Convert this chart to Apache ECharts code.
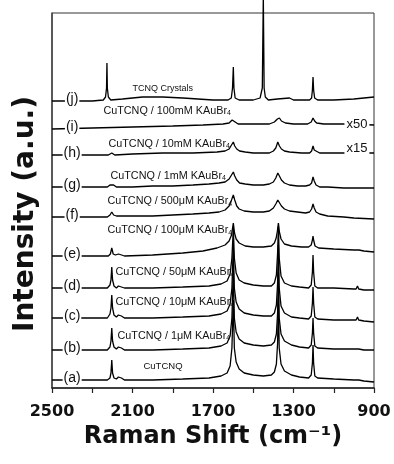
<!DOCTYPE html>
<html>
<head>
<meta charset="utf-8">
<script src="https://cdn.jsdelivr.net/npm/echarts@6/dist/echarts.min.js"></script>
<style>
  html, body { margin: 0; padding: 0; background: #fff; }
  #chart { width: 394px; height: 464px; }
</style>
</head>
<body>
<div id="chart"></div>
<script>
  // Raman spectra, [shift cm-1, intensity a.u. (stacked offset)]
  const traceA = [[2500,8],[2300,8],[2225,8],[2212,10],[2207,15],[2203,28],[2199,15],[2192,10],[2180,9],[2170,11],[2162,13],[2155,10],[2140,8],[2000,8],[1850,9],[1720,10],[1660,12],[1630,15],[1615,22],[1606,40],[1599,88],[1594,40],[1585,26],[1570,19],[1545,15],[1500,13],[1450,12],[1410,13],[1395,16],[1385,24],[1379,45],[1375,88],[1371,40],[1362,24],[1345,17],[1310,13],[1270,11],[1225,10],[1212,13],[1206,25],[1203,43],[1200,25],[1194,12],[1180,10],[1100,9],[1000,8],[989,8],[982,10],[976,8],[950,7],[900,6]];
  const traceB = [[2500,38],[2300,38],[2225,38],[2212,41],[2207,47],[2203,60],[2199,47],[2192,41],[2180,39],[2170,41],[2162,43],[2155,40],[2140,38],[2000,38],[1850,39],[1720,40],[1660,42],[1630,45],[1615,52],[1606,70],[1599,118],[1594,70],[1585,56],[1570,49],[1545,45],[1500,43],[1450,42],[1410,43],[1395,46],[1385,54],[1379,75],[1375,116],[1371,70],[1362,54],[1345,47],[1310,43],[1270,41],[1225,40],[1212,43],[1206,55],[1203,70],[1200,55],[1194,42],[1180,40],[1100,39],[1000,39],[989,39],[982,41],[976,39],[950,38],[900,38]];
  const traceC = [[2500,70],[2300,70],[2225,70],[2212,74],[2207,80],[2203,93],[2199,80],[2192,73],[2180,71],[2170,73],[2162,75],[2155,72],[2140,70],[2000,70],[1850,71],[1720,72],[1660,74],[1630,77],[1615,84],[1606,100],[1599,143],[1594,100],[1585,86],[1570,79],[1545,75],[1500,73],[1450,72],[1410,72],[1395,75],[1385,83],[1379,105],[1375,143],[1371,100],[1362,82],[1345,75],[1310,71],[1270,70],[1225,69],[1212,72],[1206,85],[1203,101],[1200,85],[1194,71],[1180,69],[1100,68],[1000,68],[989,68],[982,71],[976,68],[950,67],[900,66]];
  const traceD = [[2500,100],[2300,100],[2225,100],[2212,103],[2207,108],[2203,121],[2199,108],[2192,102],[2180,100],[2170,102],[2162,103],[2155,101],[2140,100],[2000,100],[1850,101],[1720,102],[1660,104],[1630,107],[1615,114],[1606,130],[1599,160],[1594,130],[1585,115],[1570,108],[1545,105],[1500,103],[1450,102],[1410,102],[1395,105],[1385,113],[1379,135],[1375,162],[1371,130],[1362,112],[1345,105],[1310,102],[1270,101],[1225,100],[1212,103],[1206,116],[1203,133],[1200,116],[1194,102],[1180,100],[1100,100],[1000,99],[989,99],[982,102],[976,99],[950,98],[900,98]];
  const traceE = [[2500,132],[2300,132],[2220,132],[2210,134],[2203,140],[2196,134],[2185,133],[2170,134],[2162,135],[2154,133],[2140,132],[2000,133],[1850,135],[1750,137],[1680,140],[1640,143],[1620,147],[1608,153],[1599,165],[1593,155],[1585,149],[1570,145],[1540,142],[1500,141],[1450,141],[1410,142],[1395,145],[1386,150],[1380,157],[1375,165],[1370,156],[1362,149],[1345,144],[1310,142],[1260,141],[1225,141],[1212,143],[1206,148],[1203,152],[1199,147],[1193,142],[1175,140],[1100,139],[1000,138],[990,138],[982,140],[975,138],[950,137],[900,136]];
  const traceF = [[2500,171],[2300,171],[2225,171],[2212,173],[2203,176],[2194,173],[2180,172],[2100,172],[2000,172],[1900,173],[1800,174],[1720,175],[1670,176],[1640,178],[1620,182],[1608,188],[1599,193],[1592,188],[1582,182],[1570,179],[1545,177],[1500,176],[1450,176],[1420,177],[1400,180],[1388,184],[1378,188],[1370,186],[1360,182],[1345,179],[1320,177],[1280,176],[1240,175],[1220,176],[1210,179],[1203,184],[1197,180],[1188,176],[1170,174],[1130,172],[1050,171],[1000,170],[900,169]];
  const traceG = [[2500,201],[2300,201],[2225,201],[2212,203],[2203,205],[2194,203],[2180,201],[2100,201],[2000,202],[1900,202],[1800,203],[1720,204],[1670,205],[1640,206],[1620,209],[1608,213],[1599,216],[1592,212],[1582,208],[1568,205],[1540,204],[1500,203],[1450,203],[1420,204],[1400,206],[1388,210],[1378,215],[1370,212],[1360,208],[1345,205],[1320,203],[1280,202],[1240,202],[1220,203],[1210,205],[1203,211],[1197,207],[1188,203],[1170,201],[1130,201],[1050,200],[1000,200],[900,200]];
  const traceH = [[2500,233],[2300,233],[2220,233],[2203,235],[2188,233],[2100,234],[1950,235],[1800,235],[1680,236],[1640,237],[1620,239],[1608,243],[1599,246],[1592,242],[1582,239],[1568,237],[1540,236],[1500,235],[1420,235],[1400,237],[1388,240],[1378,246],[1370,242],[1360,239],[1345,237],[1320,236],[1260,235],[1220,235],[1210,237],[1203,242],[1197,238],[1188,236],[1170,235],[1050,235],[900,235]];
  const traceI = [[2500,259],[2300,260],[2100,261],[1900,262],[1750,263],[1650,264],[1620,265],[1605,268],[1599,269],[1590,266],[1575,264],[1500,264],[1420,264],[1395,266],[1380,269],[1370,270],[1360,267],[1340,265],[1300,264],[1230,264],[1212,266],[1203,270],[1195,267],[1185,265],[1150,264],[1050,264],[900,263]];
  const traceJ = [[2500,287],[2300,287],[2245,288],[2234,291],[2229,300],[2227,325],[2225,300],[2220,291],[2208,288],[2150,289],[2050,291],[1950,291],[1850,290],[1700,288],[1625,288],[1609,290],[1603,300],[1599,321],[1596,300],[1590,290],[1570,288],[1500,288],[1466,290],[1455,300],[1450,392],[1446,300],[1440,291],[1425,288],[1380,289],[1320,290],[1300,288],[1220,288],[1210,290],[1206,298],[1203,311],[1200,298],[1195,290],[1180,288],[1100,288],[1000,289],[950,290],[900,291]];

  const traceTags = ['(a)', '(b)', '(c)', '(d)', '(e)', '(f)', '(g)', '(h)', '(i)', '(j)'];
  const sampleNames = ['CuTCNQ', 'CuTCNQ / 1μM KAuBr', 'CuTCNQ / 10μM KAuBr', 'CuTCNQ / 50μM KAuBr',
    'CuTCNQ / 100μM KAuBr', 'CuTCNQ / 500μM KAuBr', 'CuTCNQ / 1mM KAuBr', 'CuTCNQ / 10mM KAuBr',
    'CuTCNQ / 100mM KAuBr', 'TCNQ Crystals'];
  const scaleNotes = [null, null, null, null, null, null, null, 'x15', 'x50', null];
  const xTicks = [900, 1100, 1300, 1500, 1700, 1900, 2100, 2300, 2500];
  const xTickLabels = [900, 1300, 1700, 2100, 2500];

  const traces = [traceA, traceB, traceC, traceD, traceE, traceF, traceG, traceH, traceI, traceJ];

  // where the annotation texts sit: [shift, intensity]
  const nameAnchors = [[2048,22],[2177,52],[2187,85.5],[2187,115.5],[2227,157.5],[2227,186.5],[2212,212],[2222,244],[2247,277],[2102,299]];
  const noteAnchors = [null, null, null, null, null, null, null, [985,240], [985,264], null];

  const font = '"Liberation Sans", Arial, sans-serif';
  const boldFont = '"DejaVu Sans", sans-serif';

  let myChart = echarts.init(document.getElementById('chart'));

  let series = traces.map((data, k) => {
    let marks = [];
    marks.push({
      coord: [2400, data[0][1] + 2],
      label: {
        position: 'inside',
        formatter: traceTags[k],
        fontSize: 14,
        fontFamily: font,
        color: '#111',
        backgroundColor: '#fff',
        padding: [0, 1]
      }
    });
    let hasSub = sampleNames[k].indexOf('KAuBr') >= 0;
    marks.push({
      coord: nameAnchors[k],
      label: {
        position: 'right',
        distance: 0,
        formatter: hasSub ? '{t|' + sampleNames[k] + '}{s|4}' : '{t|' + sampleNames[k] + '}',
        fontFamily: font,
        rich: {
          t: { fontSize: k === 9 ? 9 : (k === 0 ? 9.5 : 10.8), fontFamily: font, color: '#111', lineHeight: 12 },
          s: { fontSize: 7, fontFamily: font, color: '#111', lineHeight: 12, verticalAlign: 'bottom', padding: [5, 0, 0, 0] }
        }
      }
    });
    if (scaleNotes[k]) {
      marks.push({
        coord: noteAnchors[k],
        label: {
          position: 'inside',
          formatter: scaleNotes[k],
          fontSize: 13,
          fontFamily: font,
          color: '#111',
          backgroundColor: '#fff',
          padding: [0, 2]
        }
      });
    }
    return {
      type: 'line',
      data: data,
      showSymbol: false,
      clip: false,
      lineStyle: { color: '#000', width: 1.3 },
      markPoint: {
        symbol: 'rect',
        symbolSize: 1,
        itemStyle: { color: 'rgba(0,0,0,0)' },
        silent: true,
        data: marks
      },
      z: 2
    };
  });

  let option = {
    animation: false,
    backgroundColor: '#fff',
    grid: {
      left: 52, right: 20, top: 13, bottom: 76,
      outerBoundsMode: 'none',
      show: true,
      borderColor: '#333',
      borderWidth: 1
    },
    xAxis: {
      type: 'value',
      min: 900,
      max: 2500,
      inverse: true,
      splitLine: { show: false },
      axisLine: { lineStyle: { color: '#222', width: 1.5 } },
      axisTick: {
        customValues: xTicks,
        length: 5,
        lineStyle: { color: '#222', width: 1.2 }
      },
      axisLabel: {
        customValues: xTickLabels,
        formatter: v => String(v),
        margin: 16,
        fontSize: 16,
        fontWeight: 'bold',
        fontFamily: boldFont,
        color: '#111'
      },
      name: 'Raman Shift (cm\u207B\u00B9)',
      nameLocation: 'middle',
      nameGap: 37,
      nameTextStyle: {
        fontSize: 24,
        fontWeight: 'bold',
        fontFamily: boldFont,
        color: '#111'
      }
    },
    yAxis: {
      type: 'value',
      min: 0,
      max: 375,
      splitLine: { show: false },
      axisLine: { show: true, lineStyle: { color: '#444', width: 1.5 } },
      axisTick: { show: false },
      axisLabel: { show: false }
    },
    graphic: [{
      type: 'text',
      x: 26,
      y: 214,
      rotation: Math.PI / 2,
      style: {
        text: 'Intensity (a.u.)',
        font: 'bold 28px "DejaVu Sans", sans-serif',
        fill: '#111',
        textAlign: 'center',
        textVerticalAlign: 'middle'
      }
    }],
    series: series
  };
  myChart.setOption(option);
</script>
</body>
</html>
